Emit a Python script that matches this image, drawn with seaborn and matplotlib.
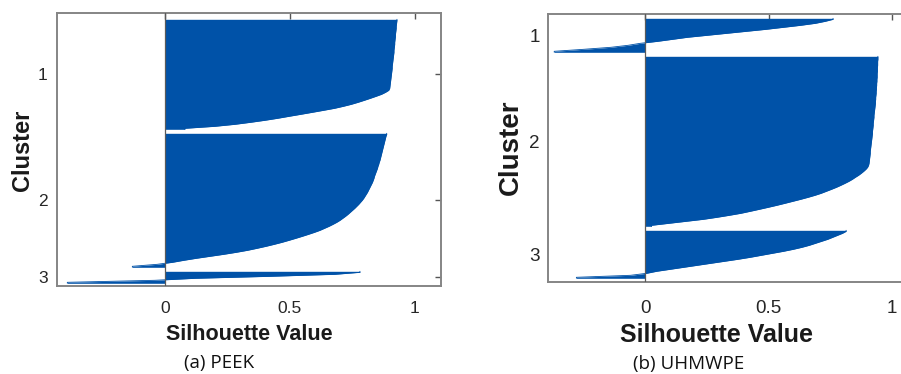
import numpy as np
import pandas as pd
import matplotlib
matplotlib.use("Agg")
import matplotlib.pyplot as plt
import seaborn as sns

# silhouette values per cluster, in drawing order (top to bottom)
peek_c1 = [0.928, 0.927, 0.926, 0.925, 0.925, 0.924, 0.923, 0.922, 0.922, 0.921,
           0.920, 0.919, 0.919, 0.918, 0.917, 0.916, 0.916, 0.915, 0.914, 0.913,
           0.912, 0.911, 0.910, 0.909, 0.909, 0.908, 0.907, 0.906, 0.905, 0.904,
           0.903, 0.902, 0.901, 0.900, 0.899, 0.895, 0.882, 0.866, 0.844, 0.821,
           0.797, 0.772, 0.745, 0.713, 0.678, 0.634, 0.589, 0.543, 0.496, 0.450,
           0.399, 0.342, 0.280, 0.200, 0.080]
peek_c2 = [0.887, 0.884, 0.882, 0.880, 0.878, 0.876, 0.874, 0.872, 0.870, 0.868,
           0.866, 0.864, 0.862, 0.860, 0.857, 0.855, 0.852, 0.850, 0.847, 0.844,
           0.841, 0.838, 0.836, 0.833, 0.830, 0.826, 0.822, 0.818, 0.814, 0.810,
           0.805, 0.800, 0.795, 0.789, 0.782, 0.775, 0.767, 0.759, 0.750, 0.741,
           0.732, 0.722, 0.711, 0.700, 0.687, 0.672, 0.656, 0.638, 0.620, 0.598,
           0.574, 0.549, 0.523, 0.496, 0.468, 0.437, 0.404, 0.368, 0.330, 0.285,
           0.235, 0.180, 0.125, 0.075, 0.030, -0.030, -0.130]
peek_c3 = [0.780, 0.680, 0.420, 0.120, -0.040, -0.390]

uhmw_c1 = [0.762, 0.730, 0.690, 0.630, 0.560, 0.490, 0.410, 0.330, 0.250, 0.170,
           0.110, 0.050, -0.020, -0.070, -0.140, -0.250, -0.370]
uhmw_c2 = [0.944, 0.944, 0.943, 0.943, 0.943, 0.942, 0.942, 0.942, 0.941, 0.941,
           0.941, 0.940, 0.940, 0.939, 0.939, 0.938, 0.938, 0.937, 0.937, 0.936,
           0.935, 0.935, 0.934, 0.934, 0.933, 0.932, 0.931, 0.930, 0.929, 0.928,
           0.928, 0.927, 0.926, 0.925, 0.925, 0.924, 0.923, 0.922, 0.922, 0.921,
           0.920, 0.919, 0.918, 0.917, 0.916, 0.915, 0.914, 0.913, 0.913, 0.912,
           0.911, 0.910, 0.909, 0.908, 0.906, 0.902, 0.895, 0.886, 0.876, 0.865,
           0.852, 0.840, 0.826, 0.810, 0.793, 0.775, 0.755, 0.734, 0.713, 0.688,
           0.660, 0.630, 0.598, 0.566, 0.533, 0.498, 0.462, 0.425, 0.387, 0.340,
           0.290, 0.235, 0.165, 0.095, 0.025]
uhmw_c3 = [0.815, 0.800, 0.780, 0.760, 0.740, 0.715, 0.690, 0.665, 0.635, 0.600,
           0.560, 0.515, 0.470, 0.425, 0.375, 0.320, 0.265, 0.210, 0.155, 0.100,
           0.045, 0.005, -0.060, -0.280]

cluster_labels = ['1', '2', '3']
x_ticks = [0, 0.5, 1]
x_tick_labels = ['0', '0.5', '1']

BAR_COLOR = '#0052A8'
SPINE_COLOR = '#858585'
GAP = 2  # empty rows between clusters


def build_frame(clusters):
    # one row per sample, clusters stacked with a small gap
    rows = []
    centers = []
    pos = 1
    for label, vals in zip(cluster_labels, clusters):
        start = pos
        for v in vals:
            rows.append({'row': pos, 'value': v, 'cluster': label})
            pos += 1
        centers.append((start + pos - 1) / 2)
        pos += GAP
    return pd.DataFrame(rows), centers


def silhouette_panel(ax, clusters, xlim, pad_top, pad_bottom, tick_size, xpad, ypad):
    df, centers = build_frame(clusters)
    for label, grp in df.groupby('cluster'):
        # each sample fills its full row, so run the outline from the first row's
        # top edge to the last row's bottom edge
        y = np.r_[grp['row'].iloc[0] - 0.5, grp['row'].values, grp['row'].iloc[-1] + 0.5]
        x = np.r_[grp['value'].iloc[0], grp['value'].values, grp['value'].iloc[-1]]
        ax.fill_betweenx(y, 0, x, color=BAR_COLOR, lw=0)
        sns.lineplot(x=x, y=y, orient='y', sort=False, estimator=None,
                     color=BAR_COLOR, lw=0.6, ax=ax)
    ax.axvline(0, color='#5a5a5a', lw=0.9, zorder=3)
    ax.set_xlim(*xlim)
    ax.set_ylim(df['row'].max() + 0.5 + pad_bottom, df['row'].min() - 0.5 - pad_top)
    ax.set_xticks(x_ticks)
    ax.set_xticklabels(x_tick_labels)
    ax.set_yticks(centers)
    ax.set_yticklabels(cluster_labels)
    ax.set_xlabel('')
    ax.set_ylabel('')
    ax.tick_params(direction='in', top=True, right=True, length=4, width=1,
                   color='#555555', labelcolor='#262626', labelsize=tick_size)
    ax.tick_params(axis='x', pad=xpad)
    ax.tick_params(axis='y', pad=ypad)
    for s in ax.spines.values():
        s.set_visible(True)
        s.set_color(SPINE_COLOR)
        s.set_linewidth(1.4)


sns.set_style('white')
plt.rcParams['font.family'] = ['Liberation Sans', 'DejaVu Sans']

W, H = 901, 374
fig = plt.figure(figsize=(W / 100, H / 100), dpi=100)

ax1 = fig.add_axes([57.3 / W, (H - 285.7) / H, 383.4 / W, 272.4 / H])
silhouette_panel(ax1, [peek_c1, peek_c2, peek_c3], (-0.43, 1.103),
                 pad_top=3.0, pad_bottom=1.2, tick_size=12.5, xpad=11, ypad=7)

ax2 = fig.add_axes([548.3 / W, (H - 282.3) / H, 368.0 / W, 268.3 / H])
silhouette_panel(ax2, [uhmw_c1, uhmw_c2, uhmw_c3], (-0.394, 1.1),
                 pad_top=2.15, pad_bottom=2.0, tick_size=13.6, xpad=13, ypad=6)

# axis titles
fig.text(249 / W, 1 - 340 / H, 'Silhouette Value', ha='center', va='baseline',
         fontsize=15.5, fontweight='bold', color='#1a1a1a')
fig.text(716 / W, 1 - 341.7 / H, 'Silhouette Value', ha='center', va='baseline',
         fontsize=18, fontweight='bold', color='#1a1a1a')
fig.text(23 / W, 1 - 150 / H, 'Cluster', ha='center', va='center', rotation=90,
         fontsize=17, fontweight='bold', color='#1a1a1a')
fig.text(511 / W, 1 - 147.5 / H, 'Cluster', ha='center', va='center', rotation=90,
         fontsize=20, fontweight='bold', color='#1a1a1a')

# sub captions
fig.text(219 / W, 1 - 367.7 / H, '(a) PEEK', ha='center', va='baseline',
         fontsize=13.5, family='Open Sans', color='#111111')
fig.text(689 / W, 1 - 369 / H, '(b) UHMWPE', ha='center', va='baseline',
         fontsize=13.5, family='Open Sans', color='#111111')

fig.savefig('out.png', dpi=100)
